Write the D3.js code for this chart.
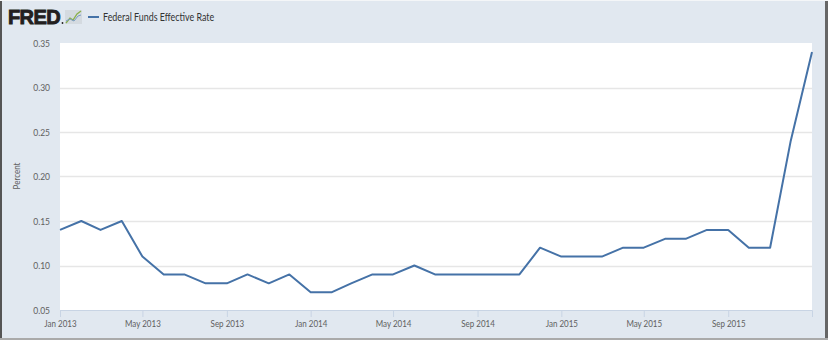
<!DOCTYPE html>
<html>
<head>
<meta charset="utf-8">
<script src="https://cdn.jsdelivr.net/npm/d3@7"></script>
<style>
  body { margin: 0; background: #fff; }
  svg { display: block; }
  text { font-family: Lato, "Open Sans", sans-serif; }
</style>
</head>
<body>
<div id="chart"></div>
<script>
// monthly values, Jan 2013 .. Jan 2016
var months = ["2013-01","2013-02","2013-03","2013-04","2013-05","2013-06","2013-07","2013-08","2013-09","2013-10","2013-11","2013-12",
              "2014-01","2014-02","2014-03","2014-04","2014-05","2014-06","2014-07","2014-08","2014-09","2014-10","2014-11","2014-12",
              "2015-01","2015-02","2015-03","2015-04","2015-05","2015-06","2015-07","2015-08","2015-09","2015-10","2015-11","2015-12",
              "2016-01"];
var rates = [0.14,0.15,0.14,0.15,0.11,0.09,0.09,0.08,0.08,0.09,0.08,0.09,
             0.07,0.07,0.08,0.09,0.09,0.10,0.09,0.09,0.09,0.09,0.09,0.12,
             0.11,0.11,0.11,0.12,0.12,0.13,0.13,0.14,0.14,0.12,0.12,0.24,
             0.34];
var yTicks = [0.05,0.10,0.15,0.20,0.25,0.30,0.35];
var xTickMonths = ["2013-01","2013-05","2013-09","2014-01","2014-05","2014-09","2015-01","2015-05","2015-09"];
var seriesName = "Federal Funds Effective Rate";

var width = 828, height = 340;
var pLeft = 60, pRight = 812, pTop = 43, pBottom = 310;
var parse = d3.timeParse("%Y-%m");
var lineColor = "#4572a7";

// squeeze text a little, the original font is narrow
function narrow(sel, k) {
    sel.each(function() {
        var w = this.getComputedTextLength();
        d3.select(this).attr("textLength", w * k).attr("lengthAdjust", "spacingAndGlyphs");
    });
}

var svg = d3.select("#chart").append("svg")
    .attr("width", width)
    .attr("height", height);

// frame
svg.append("rect").attr("width", width).attr("height", height).attr("fill", "#e1e8f0");
svg.append("rect").attr("x", 0).attr("y", 0).attr("width", 2).attr("height", height).attr("fill", "#555");
svg.append("rect").attr("x", 825).attr("y", 0).attr("width", 3).attr("height", height).attr("fill", "#666");
svg.append("rect").attr("x", 0).attr("y", 338).attr("width", width).attr("height", 2).attr("fill", "#aaa");
svg.append("rect").attr("x", 0).attr("y", 0).attr("width", width).attr("height", 1).attr("fill", "#f4f6f8");

var data = months.map(function(m, i) { return { date: parse(m), value: rates[i] }; });

var x = d3.scaleTime()
    .domain([parse(months[0]), parse(months[months.length - 1])])
    .range([pLeft, pRight]);
var y = d3.scaleLinear()
    .domain([0.05, 0.35])
    .range([pBottom, pTop]);

// plot area
svg.append("rect")
    .attr("x", pLeft).attr("y", pTop)
    .attr("width", pRight - pLeft).attr("height", pBottom - pTop)
    .attr("fill", "#fff");

// gridlines
svg.append("g").selectAll("line")
    .data(yTicks.slice(1, -1))
    .enter().append("line")
    .attr("x1", pLeft).attr("x2", pRight)
    .attr("y1", function(d) { return Math.round(y(d)) + 0.5; })
    .attr("y2", function(d) { return Math.round(y(d)) + 0.5; })
    .attr("stroke", "#e6e6e6")
    .attr("stroke-width", 1.5);

// y axis
var yAxis = svg.append("g")
    .attr("transform", "translate(" + (pLeft - 10) + ",0)")
    .call(d3.axisLeft(y).tickValues(yTicks).tickFormat(d3.format(".2f")).tickSize(0).tickPadding(0));
yAxis.select(".domain").remove();
yAxis.selectAll("text")
    .attr("fill", "#606060")
    .style("font-size", "10px")
    .style("font-family", "Lato, sans-serif")
    .call(narrow, 0.85);

// x axis
var xAxis = svg.append("g")
    .attr("transform", "translate(0," + pBottom + ")")
    .call(d3.axisBottom(x).tickValues(xTickMonths.map(parse))
        .tickFormat(d3.timeFormat("%b %Y")).tickSize(7).tickPadding(3));
xAxis.select(".domain").attr("stroke", "#c8d4e4");
xAxis.selectAll(".tick line").attr("stroke", "#c8d4e4");
xAxis.selectAll("text")
    .attr("fill", "#606060")
    .style("font-size", "10px")
    .style("font-family", "Lato, sans-serif")
    .call(narrow, 0.8);

// y label
svg.append("text")
    .attr("transform", "translate(20,176) rotate(-90)")
    .attr("text-anchor", "middle")
    .attr("fill", "#606060")
    .style("font-size", "10px")
    .text("Percent")
    .call(narrow, 0.8);

// line
var line = d3.line()
    .x(function(d) { return x(d.date); })
    .y(function(d) { return y(d.value); });
svg.append("path")
    .datum(data)
    .attr("d", line)
    .attr("fill", "none")
    .attr("stroke", lineColor)
    .attr("stroke-width", 2)
    .attr("stroke-linejoin", "round");

// header: logo + legend
svg.append("text")
    .attr("x", 8).attr("y", 24)
    .attr("fill", "#231f20")
    .attr("stroke", "#231f20")
    .attr("stroke-width", 0.9)
    .style("font-family", "\"Liberation Sans\", Arial, sans-serif")
    .style("font-weight", "bold")
    .style("font-size", "20px")
    .style("letter-spacing", "-0.6px")
    .text("FRED");
svg.append("circle").attr("cx", 62.5).attr("cy", 23).attr("r", 0.9).attr("fill", "#231f20");

var icon = svg.append("g").attr("transform", "translate(65,10)");
icon.append("rect").attr("width", 17).attr("height", 14).attr("fill", "#d4dae0");
icon.append("path").attr("d", "M1,13 L5,8 L8,10 L12,4 L16,1")
    .attr("fill", "none").attr("stroke", "#8ab04a").attr("stroke-width", 1.3);
icon.append("path").attr("d", "M1,11 L5,9 L9,11 L13,6 L16,5")
    .attr("fill", "none").attr("stroke", "#7a9cc6").attr("stroke-width", 1);

svg.append("line")
    .attr("x1", 88).attr("x2", 99).attr("y1", 17).attr("y2", 17)
    .attr("stroke", lineColor).attr("stroke-width", 2);
svg.append("text")
    .attr("x", 103).attr("y", 21)
    .attr("fill", "#333")
    .style("font-size", "11px")
    .text(seriesName)
    .call(narrow, 0.81);
</script>
</body>
</html>
